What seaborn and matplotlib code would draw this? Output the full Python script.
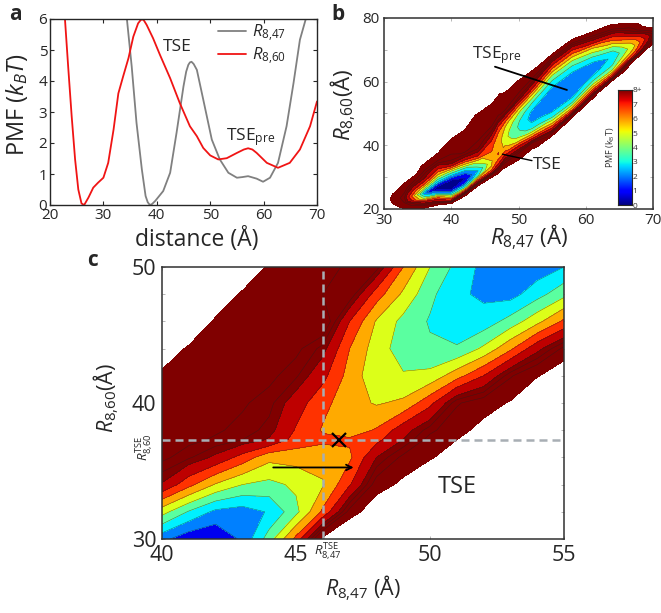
import numpy as np
import pandas as pd
import matplotlib
matplotlib.use('Agg')
import matplotlib.pyplot as plt
from matplotlib.ticker import MultipleLocator
import seaborn as sns

# panel a, PMF profiles
r847_dist = [34.2, 34.4, 35.3, 36.2, 37.2, 37.9, 38.3, 38.7, 39.1, 39.7, 41.2, 42.5, 43.7, 45.0, 45.5, 45.9, 46.2, 46.5,
             46.9, 47.5, 48.7, 50.3, 51.8, 53.4, 55.0, 56.0, 57.1, 58.7, 59.9, 61.2, 62.7, 64.3, 65.6, 66.8, 67.9, 68.1]
r847_pmf = [6.5, 6.0, 4.47, 2.65, 1.15, 0.29, 0.09, 0.0, 0.03, 0.13, 0.45, 1.04, 2.33, 3.83, 4.3, 4.52, 4.6, 4.62,
            4.55, 4.36, 3.4, 2.11, 1.47, 1.04, 0.88, 0.9, 0.93, 0.85, 0.75, 0.88, 1.36, 2.54, 3.93, 5.33, 6.0, 6.5]
r860_dist = [22.7, 22.8, 23.4, 24.06, 24.7, 25.3, 25.9, 26.4, 27.2, 28.1, 29.0, 30.0, 30.9, 31.9, 32.8, 33.7, 34.7,
             35.6, 36.5, 37.0, 37.3, 37.6, 38.1, 39.3, 40.6, 42.5, 44.3, 46.2, 47.5, 48.7, 50.0, 51.5, 53.1, 55.0,
             56.3, 57.1, 57.9, 58.7, 60.6, 62.7, 64.9, 66.8, 68.7, 70.0]
r860_pmf = [6.5, 6.0, 4.47, 2.86, 1.47, 0.5, 0.05, 0.0, 0.24, 0.56, 0.72, 0.88, 1.36, 2.43, 3.6, 4.15, 4.74,
            5.43, 5.86, 5.97, 5.99, 5.95, 5.81, 5.38, 4.84, 4.09, 3.29, 2.54, 2.22, 1.84, 1.6, 1.47, 1.51, 1.68,
            1.79, 1.83, 1.79, 1.68, 1.36, 1.2, 1.36, 1.79, 2.54, 3.34]

kt_per_band = 0.8
band_edges = [0, 1, 2, 3, 4, 5, 6, 7, 8, 9, 11]
band_colors = ['#00008c', '#0000f0', '#0080ff', '#00f0ff', '#5affa0', '#dcff19', '#ffaa00', '#ff3200', '#be0000',
               '#800000']

# panel b, columns of values across the valley
b_x = [30, 33, 36, 38, 40, 42, 44, 46, 47, 48, 50, 52, 55, 58, 61, 64, 67, 70]
b_valley = [23, 23.5, 25, 26.5, 27.5, 29.5, 32, 35, 37.5, 42, 46, 49, 55.3, 60, 64, 68, 71, 75]
b_offset = [-14, -11, -8.5, -6.5, -4.5, -3, -1.5, 0, 1.5, 3, 4.5, 6.5, 8.5, 11, 14, 18]
b_bands = [
    [13, 13, 13, 13, 13, 12.5, 11.8, 11.6, 11.8, 12.5, 13, 13, 13, 13, 13, 13],
    [13, 13, 13, 13, 12, 10.7, 10, 9.6, 10, 10.5, 11, 13, 13, 13, 13, 13],
    [13, 13, 13, 13, 10.8, 8.8, 4.6, 2.4, 5, 7.3, 8.9, 9.7, 10.6, 12, 13, 13],
    [13, 13, 13, 13, 9.8, 7.0, 2.7, 0.1, 2.1, 4.3, 6.3, 8.4, 9.9, 11, 13, 13],
    [13, 13, 13, 13, 7.5, 3.9, 1.0, 0.1, 0.9, 2.9, 5.1, 8.9, 9.8, 10.2, 10.7, 13],
    [13, 13, 13, 13, 9.3, 4.3, 1.8, 0.9, 1.9, 3.5, 5.9, 8.8, 10.1, 10.3, 10.6, 11.8],
    [13, 13, 13, 13, 10.8, 7.5, 3.9, 3.0, 4.3, 5.5, 7.8, 9.4, 9.8, 10.3, 10.4, 10.8],
    [13, 13, 13, 12.5, 10.4, 7.2, 6.0, 5.9, 6.8, 7.0, 7.2, 8.0, 9.1, 10, 10.2, 10.6],
    [13, 13, 13, 11.2, 9.1, 7.6, 6.8, 7.1, 6.5, 6.4, 6.6, 7, 8, 9.9, 10.2, 10.7],
    [13, 12.2, 10.7, 9.3, 7.5, 6.4, 5.7, 5.3, 5.4, 5.7, 6.3, 8, 9.9, 10.3, 10.7, 13],
    [13, 11.2, 10, 8.3, 5.7, 4.6, 4.1, 3.9, 4.1, 4.5, 5.2, 7.1, 9.3, 10.2, 10.8, 13],
    [13, 11.4, 10.3, 7.3, 4.6, 3.4, 2.9, 2.6, 2.8, 3.4, 4.1, 5.6, 7.8, 9.6, 10.8, 13],
    [13, 9.5, 6.1, 4.0, 2.8, 2.5, 2.3, 2.2, 2.5, 3, 3.7, 4.8, 6.7, 9, 11.6, 13],
    [13, 10.8, 6.4, 4, 2.7, 2.4, 2.1, 2.0, 2.3, 3, 3.7, 4.9, 6.6, 9, 11.6, 13],
    [13, 13, 10, 7, 4.5, 3.4, 2.6, 2.3, 2.7, 3.5, 4.5, 6, 8.6, 10.5, 13, 13],
    [13, 13, 13, 8.5, 5.2, 4.1, 3.6, 3.2, 3.9, 5, 6.5, 8.4, 10, 11.6, 13, 13],
    [13, 13, 13, 13, 10.7, 7.8, 6.3, 5.6, 6.3, 7.8, 9.3, 10.4, 11.8, 13, 13, 13],
    [13, 13, 13, 13, 13, 11, 10, 9.5, 10.6, 12, 13, 13, 13, 13, 13, 13],
]

# panel c, zoom around the saddle
c_x = [40, 41, 42, 43, 44, 45, 46, 47, 48, 49, 50, 51, 52, 53, 54, 55]
c_y = [30, 32, 34, 36, 37.3, 38, 40, 42, 44, 46, 48, 50]
c_bands = [
    [2.3, 1.3, 1.1, 2.2, 4.5, 7.3, 11.3, 13, 13, 13, 13, 13, 13, 13, 13, 13],
    [5.4, 3.9, 2.75, 2.5, 3.1, 4.7, 7.2, 10.3, 12, 13, 13, 13, 13, 13, 13, 13],
    [8.9, 7.3, 5.9, 5.0, 4.7, 5.2, 5.9, 7.9, 10.4, 11.3, 13, 13, 13, 13, 13, 13],
    [10.2, 9.6, 8.8, 7.6, 6.3, 6.4, 6.4, 6.8, 9.0, 10.2, 10.8, 12, 13, 13, 13, 13],
    [10.4, 10.2, 9.9, 9.5, 8.9, 7.6, 7.2, 7.15, 7.7, 9.0, 10.3, 11.0, 13, 13, 13, 13],
    [10.5, 10.3, 10.1, 9.8, 9.3, 7.9, 6.9, 6.5, 7.1, 8.6, 9.8, 10.6, 11.4, 13, 13, 13],
    [10.4, 10.3, 10.2, 10.1, 9.7, 8.5, 7.3, 6.4, 5.9, 6.2, 7.7, 9.9, 10.5, 11.1, 13, 13],
    [10.7, 10.5, 10.4, 10.3, 10.2, 9.6, 8.3, 6.6, 5.3, 5.1, 5.3, 6.6, 8.0, 9.9, 10.9, 12],
    [12, 10.8, 10.6, 10.4, 10.3, 10.2, 9.3, 7.0, 5.5, 4.5, 4.15, 4.1, 5.2, 6.8, 8.7, 10.2],
    [13, 12.4, 10.8, 10.6, 10.4, 10.2, 10.8, 8.0, 5.9, 4.7, 3.9, 3.4, 3.4, 4.4, 5.7, 7.2],
    [13, 13, 12, 10.8, 10.5, 10.2, 10, 10, 7.5, 5.8, 4.25, 3.2, 2.8, 2.6, 3.6, 4.7],
    [13, 13, 13, 12.3, 10.8, 10.5, 10.2, 9.9, 9.8, 7.0, 5.0, 3.7, 2.7, 2.4, 2.4, 3.0],
]
tse_x = 46.0
tse_y = 37.27

W, H = 661, 613
sns.set_style('ticks')
plt.rcParams['font.family'] = ['Open Sans', 'DejaVu Sans']
plt.rcParams['mathtext.fontset'] = 'custom'
plt.rcParams['mathtext.rm'] = 'Open Sans'
plt.rcParams['mathtext.it'] = 'Open Sans:italic'
plt.rcParams['mathtext.bf'] = 'Open Sans:bold'

R847 = r'$R_{\mathit{8{,}47}}$'
R860 = r'$R_{\mathit{8{,}60}}$'

fig = plt.figure(figsize=(W / 100, H / 100), dpi=100)


def px_axes(left, top, right, bottom):
    return fig.add_axes([left / W, 1 - bottom / H, (right - left) / W, (bottom - top) / H])


def draw_surface(ax, x, y, bands):
    z = np.array(bands, dtype=float) * kt_per_band
    edges = [e * kt_per_band for e in band_edges]
    ax.contourf(x, y, z, levels=edges, colors=band_colors)
    ax.contour(x, y, z, levels=edges[1:-1] + [7.6, 8.0], colors='#202020', linewidths=0.35, alpha=0.65)


def style_thin(ax):
    for s in ax.spines.values():
        s.set_linewidth(1.1)
        s.set_color('#303030')
    ax.tick_params(which='both', direction='in', length=2, width=0.4, color='#808080', top=True, right=True)


# a
ax_a = px_axes(50, 19, 317, 205)
df = pd.concat([
    pd.DataFrame({'distance': r847_dist, 'pmf': r847_pmf, 'coord': R847}),
    pd.DataFrame({'distance': r860_dist, 'pmf': r860_pmf, 'coord': R860}),
])
sns.lineplot(data=df, x='distance', y='pmf', hue='coord', palette=['#808080', '#f01414'], estimator=None, sort=False,
             linewidth=1.3, solid_joinstyle='round', ax=ax_a)
ax_a.set_xlim(20, 70)
ax_a.set_ylim(0, 6)
ax_a.set_xticks([20, 30, 40, 50, 60, 70])
ax_a.set_yticks([0, 1, 2, 3, 4, 5, 6])
ax_a.tick_params(direction='in', length=3, width=0.8, top=True, right=True, labelsize=11, pad=2)
for s in ax_a.spines.values():
    s.set_linewidth(1.0)
ax_a.set_xlabel('distance (Å)', fontsize=16.5, labelpad=3, x=0.55)
ax_a.set_ylabel(r'PMF ($k_BT$)', fontsize=17, labelpad=6, y=0.54)
ax_a.legend(loc='upper left', bbox_to_anchor=(0.615, 1.0), frameon=False, fontsize=12, handlelength=1.7,
            labelspacing=0.1, handletextpad=0.35, borderpad=0.2, borderaxespad=0)
ax_a.text(41.2, 5.1, 'TSE', fontsize=12.5, va='center')
ax_a.text(52.9, 2.2, r'TSE$_{\mathrm{pre}}$', fontsize=12.5, va='center')

# b
ax_b = px_axes(384, 18, 653, 209)
mesh_x = np.tile(np.array(b_x, dtype=float)[:, None], (1, len(b_offset)))
mesh_y = np.array(b_valley, dtype=float)[:, None] + np.array(b_offset, dtype=float)[None, :]
draw_surface(ax_b, mesh_x, mesh_y, b_bands)
ax_b.set_xlim(30, 70)
ax_b.set_ylim(20, 80)
ax_b.set_xticks([30, 40, 50, 60, 70])
ax_b.set_yticks([20, 40, 60, 80])
ax_b.yaxis.set_minor_locator(MultipleLocator(10))
style_thin(ax_b)
ax_b.tick_params(labelsize=11, pad=3)
ax_b.set_xlabel(R847 + ' (Å)', fontsize=16, labelpad=-4, x=0.54)
ax_b.set_ylabel(R860 + '(Å)', fontsize=16, labelpad=3, y=0.545)
ax_b.plot([46.5, 57.2], [64.7, 57.4], color='k', lw=1.3)
ax_b.plot([47.6, 52.0], [37.2, 35.2], color='k', lw=1.0)
ax_b.text(43.1, 68.5, r'TSE$_{\mathrm{pre}}$', fontsize=12.5, va='center')
ax_b.text(52.1, 33.8, 'TSE', fontsize=12.5, va='center')

# colorbar of panel b
ax_cb = px_axes(618, 90, 632, 205)
ax_cb.imshow(np.linspace(1, 0, 256)[:, None], cmap='jet', aspect='auto', extent=[0, 1, 0, 8])
ax_cb.set_xticks([])
ax_cb.yaxis.tick_right()
ax_cb.set_yticks(range(9))
ax_cb.set_yticklabels(['0', '1', '2', '3', '4', '5', '6', '7', '8+'], fontsize=6, color='#303030')
ax_cb.tick_params(length=0, pad=0.5)
for s in ax_cb.spines.values():
    s.set_linewidth(0.8)
ax_cb.text(-0.55, 0.5, r'PMF (k$_{\mathrm{B}}$T)', transform=ax_cb.transAxes, rotation=90, fontsize=6.5, ha='center',
           va='center', color='#303030')

# c
ax_c = px_axes(162, 267, 564, 539)
draw_surface(ax_c, c_x, c_y, c_bands)
ax_c.set_xlim(40, 55)
ax_c.set_ylim(30, 50)
ax_c.set_xticks([40, 45, 50, 55])
ax_c.set_yticks([30, 40, 50])
ax_c.yaxis.set_minor_locator(MultipleLocator(2))
style_thin(ax_c)
ax_c.tick_params(which='major', labelsize=15.5, pad=4)
ax_c.set_xlabel(R847 + ' (Å)', fontsize=15.5, labelpad=6)
ax_c.set_ylabel(R860 + '(Å)', fontsize=15.5, labelpad=8, y=0.52)
dash = (0, (3.2, 2))
ax_c.axvline(tse_x, color='#a8aeb4', lw=1.8, ls=dash)
ax_c.axhline(tse_y, color='#a8aeb4', lw=1.8, ls=dash)
ax_c.plot([46.62], [tse_y], marker='x', color='k', ms=10, mew=1.6)
ax_c.annotate('', xy=(47.15, 35.26), xytext=(44.15, 35.26),
              arrowprops=dict(arrowstyle='->', color='k', lw=1.3, shrinkA=0, shrinkB=0))
ax_c.text(51.0, 33.85, 'TSE', fontsize=17, ha='center', va='center')
fig.text(328 / W, 1 - 552 / H, r'$R_{\mathit{8{,}47}}^{\mathrm{TSE}}$', fontsize=9.5, ha='center', va='center')
fig.text(145 / W, 1 - 447 / H, r'$R_{\mathit{8{,}60}}^{\mathrm{TSE}}$', fontsize=9.5, rotation=90, ha='center',
         va='center')

# panel letters
fig.text(15 / W, 1 - 15 / H, 'a', fontsize=15, fontweight='bold', ha='center', va='center')
fig.text(338 / W, 1 - 14 / H, 'b', fontsize=15, fontweight='bold', ha='center', va='center')
fig.text(92 / W, 1 - 261 / H, 'c', fontsize=15, fontweight='bold', ha='center', va='center')

fig.savefig('out.png', dpi=100)
